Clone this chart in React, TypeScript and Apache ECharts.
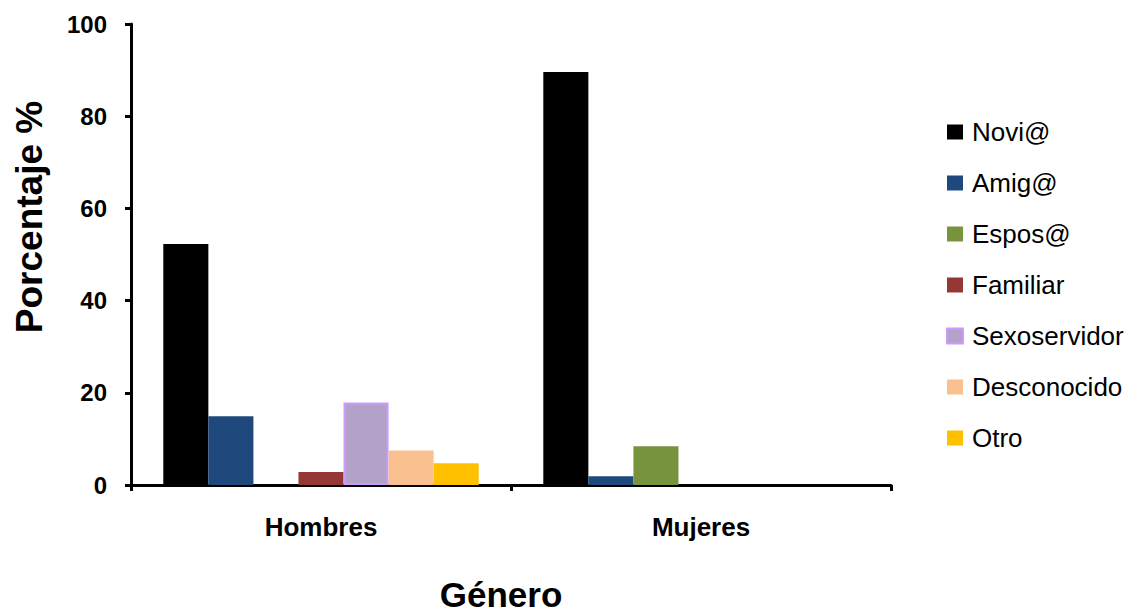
import React, { useEffect, useRef } from "react";
import * as echarts from "echarts";

const FONT = '"Liberation Sans", Arial, sans-serif';

const categories = ["Hombres", "Mujeres"];
const seriesNames = ["Novi@", "Amig@", "Espos@", "Familiar", "Sexoservidor", "Desconocido", "Otro"];
const novi = [52.3, 89.6];
const amig = [14.9, 1.9];
const espos = [0, 8.4];
const familiar = [2.8, 0];
const sexoservidor = [17.9, 0];
const desconocido = [7.5, 0];
const otro = [4.7, 0];
const yTicks = [0, 20, 40, 60, 80, 100];

const seriesValues = [novi, amig, espos, familiar, sexoservidor, desconocido, otro];
const fills = ["#000000", "#1F497D", "#77933C", "#953735", "#B3A2C7", "#FAC090", "#FFC000"];
const borders = [null, null, null, null, "#CC99FF", null, null];

export default function App() {
  const ref = useRef<HTMLDivElement>(null);

  useEffect(() => {
    if (!ref.current) return;
    const chart = echarts.init(ref.current, null, { renderer: "svg" });

    // zero shares are left empty so no outline is drawn on the baseline
    const series = seriesNames.map((name, i) => ({
      name,
      type: "bar",
      data: seriesValues[i].map((v) => (v === 0 ? null : v)),
      barGap: "0%",
      barCategoryGap: "17%",
      itemStyle: borders[i]
        ? { color: fills[i], borderColor: borders[i], borderWidth: 2 }
        : { color: fills[i] },
    }));

    chart.setOption({
      animation: false,
      backgroundColor: "#ffffff",
      textStyle: { fontFamily: FONT },
      grid: { left: 131, right: 248, top: 24, bottom: 128, containLabel: false },
      legend: {
        orient: "vertical",
        left: 946,
        top: 119,
        padding: 0,
        itemGap: 25,
        itemWidth: 16,
        itemHeight: 15,
        icon: "rect",
        data: seriesNames,
        textStyle: {
          fontFamily: FONT,
          fontSize: 26,
          lineHeight: 26,
          color: "#000",
          padding: [0, 0, 0, 4],
        },
      },
      xAxis: {
        type: "category",
        data: categories,
        axisLine: { lineStyle: { color: "#000", width: 3 } },
        axisTick: { show: true, inside: false, length: 6, lineStyle: { color: "#000", width: 3 } },
        axisLabel: {
          color: "#000",
          fontFamily: FONT,
          fontWeight: "bold",
          fontSize: 26,
          margin: 29,
        },
        splitLine: { show: false },
      },
      yAxis: {
        type: "value",
        min: yTicks[0],
        max: yTicks[yTicks.length - 1],
        interval: 20,
        axisLine: { show: true, lineStyle: { color: "#000", width: 3 } },
        axisTick: { show: true, inside: false, length: 6, lineStyle: { color: "#000", width: 3 } },
        axisLabel: {
          color: "#000",
          fontFamily: FONT,
          fontWeight: "bold",
          fontSize: 24,
          margin: 24,
        },
        splitLine: { show: false },
      },
      graphic: [
        {
          type: "text",
          x: 501,
          y: 594,
          style: {
            text: "Género",
            font: `bold 35px ${FONT}`,
            fill: "#000",
            textAlign: "center",
            textVerticalAlign: "middle",
          },
        },
        {
          type: "text",
          x: 29,
          y: 217,
          rotation: Math.PI / 2,
          style: {
            text: "Porcentaje %",
            font: `bold 37px ${FONT}`,
            fill: "#000",
            textAlign: "center",
            textVerticalAlign: "middle",
          },
        },
      ],
      series,
    });

    return () => chart.dispose();
  }, []);

  return (
    <div
      ref={ref}
      style={{ position: "fixed", left: 0, top: 0, width: 1139, height: 613 }}
    />
  );
}
